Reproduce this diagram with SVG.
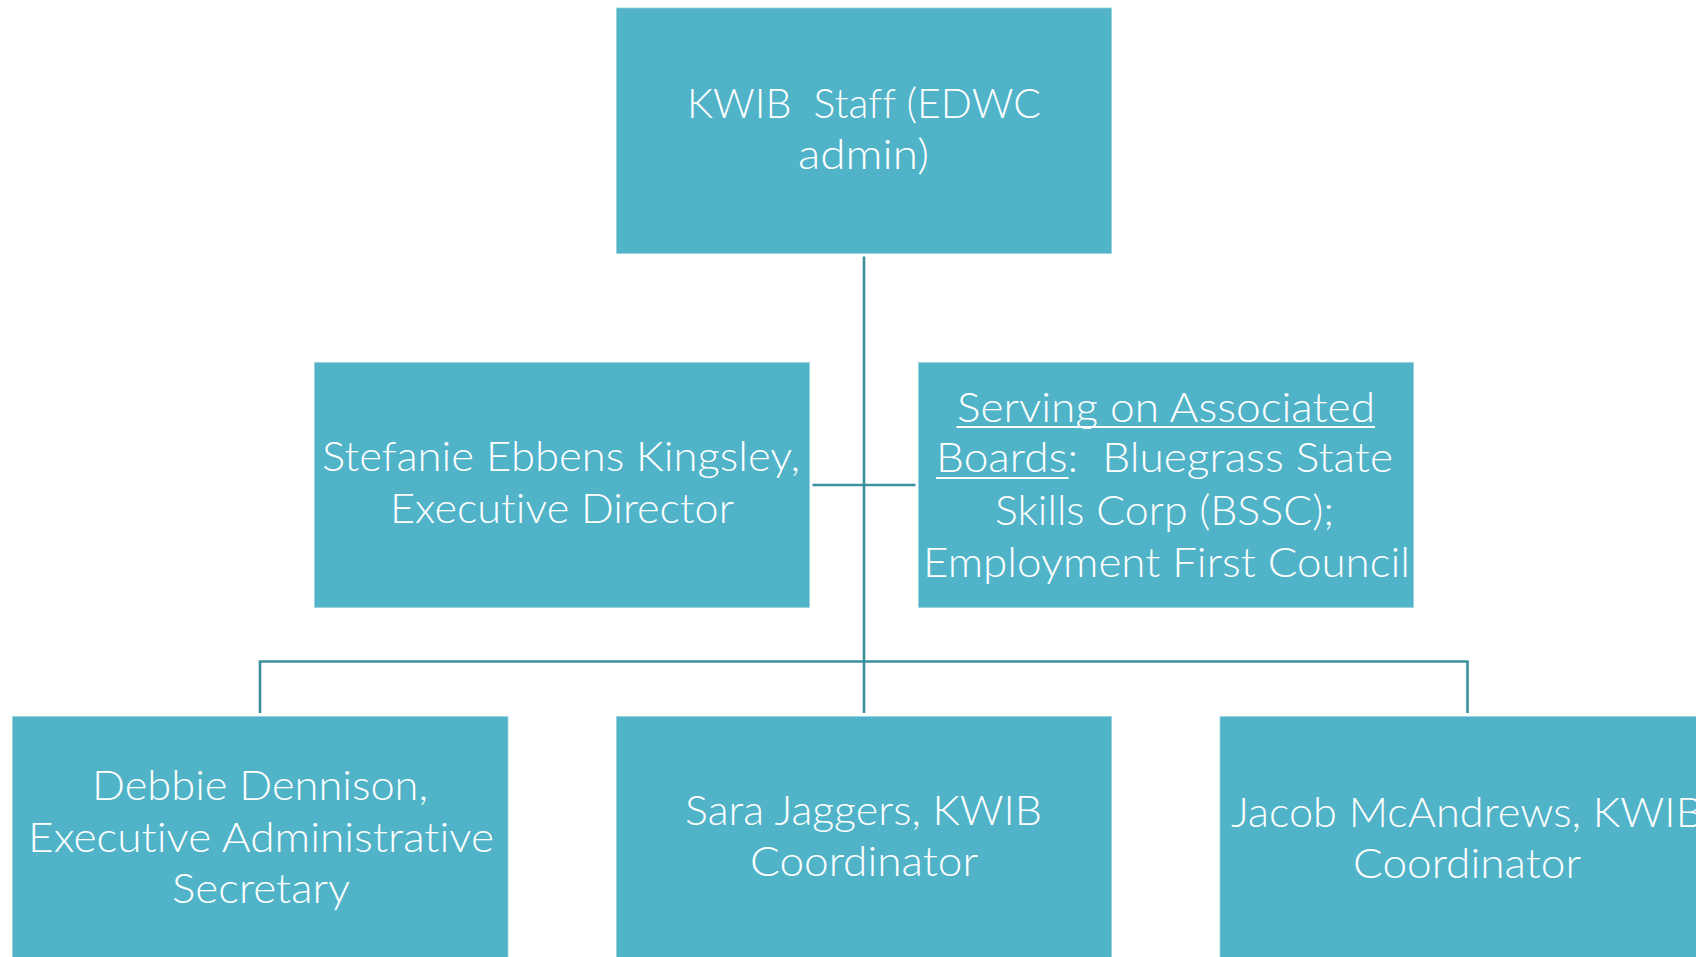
<svg xmlns="http://www.w3.org/2000/svg" width="1696" height="957" viewBox="0 0 1696 957" xml:space="preserve">
<style>
.box{fill:#50b3c8;stroke:#ffffff;stroke-opacity:0.55;stroke-width:1.5}
.t{font-family:Lato,"Open Sans","Liberation Sans",sans-serif;font-weight:300;font-size:42px;fill:#ffffff;text-anchor:middle;white-space:pre;font-variant-ligatures:none;font-feature-settings:"liga" 0,"clig" 0,"dlig" 0;letter-spacing:0.01px}
.ul{fill:#ffffff}
.c{stroke:#3c8f9c;stroke-width:2.6;fill:none}
</style>
<rect x="0" y="0" width="1696" height="957" fill="#ffffff"/>
<g id="connectors">
<line class="c" x1="864" y1="256.5" x2="864" y2="713"/>
<line class="c" x1="812.5" y1="485" x2="915.5" y2="485"/>
<polyline class="c" points="260,713 260,661.5 1467.5,661.5 1467.5,713"/>
</g>
<g id="node-kwib-staff">
<rect class="box" x="616" y="7.5" width="496" height="246.5"/>
<text class="t" x="864" y="118" textLength="354" lengthAdjust="spacingAndGlyphs">KWIB  Staff (EDWC</text>
<text class="t" x="863.5" y="168.5" textLength="131" lengthAdjust="spacingAndGlyphs">admin)</text>
</g>
<g id="node-executive-director">
<rect class="box" x="314" y="362" width="496" height="246"/>
<text class="t" x="561" y="470.5" textLength="478" lengthAdjust="spacingAndGlyphs">Stefanie Ebbens Kingsley,</text>
<text class="t" x="562" y="523" textLength="344" lengthAdjust="spacingAndGlyphs">Executive Director</text>
</g>
<g id="node-associated-boards">
<rect class="box" x="918" y="362" width="496" height="246"/>
<text class="t" x="1166" y="421.5" textLength="418" lengthAdjust="spacingAndGlyphs">Serving on Associated</text>
<rect class="ul" x="956.5" y="426" width="418.5" height="2"/>
<text class="t" x="1164.5" y="472" textLength="457" lengthAdjust="spacingAndGlyphs">Boards:  Bluegrass State</text>
<rect class="ul" x="936" y="477" width="132.5" height="2"/>
<text class="t" x="1164.5" y="525" textLength="339" lengthAdjust="spacingAndGlyphs">Skills Corp (BSSC);</text>
<text class="t" x="1166.5" y="576.5" textLength="487" lengthAdjust="spacingAndGlyphs">Employment First Council</text>
</g>
<g id="node-debbie-dennison">
<rect class="box" x="12" y="716" width="496.5" height="246"/>
<text class="t" x="260" y="800" textLength="336" lengthAdjust="spacingAndGlyphs">Debbie Dennison,</text>
<text class="t" x="261" y="851.5" textLength="466" lengthAdjust="spacingAndGlyphs">Executive Administrative</text>
<text class="t" x="261" y="903" textLength="178" lengthAdjust="spacingAndGlyphs">Secretary</text>
</g>
<g id="node-sara-jaggers">
<rect class="box" x="616" y="716" width="496" height="246"/>
<text class="t" x="863.5" y="825" textLength="357" lengthAdjust="spacingAndGlyphs">Sara Jaggers, KWIB</text>
<text class="t" x="864" y="876" textLength="228" lengthAdjust="spacingAndGlyphs">Coordinator</text>
</g>
<g id="node-jacob-mcandrews">
<rect class="box" x="1219.5" y="716" width="496" height="246"/>
<text class="t" x="1467" y="826.5" textLength="472" lengthAdjust="spacingAndGlyphs">Jacob McAndrews, KWIB</text>
<text class="t" x="1467" y="878" textLength="228" lengthAdjust="spacingAndGlyphs">Coordinator</text>
</g>
</svg>
